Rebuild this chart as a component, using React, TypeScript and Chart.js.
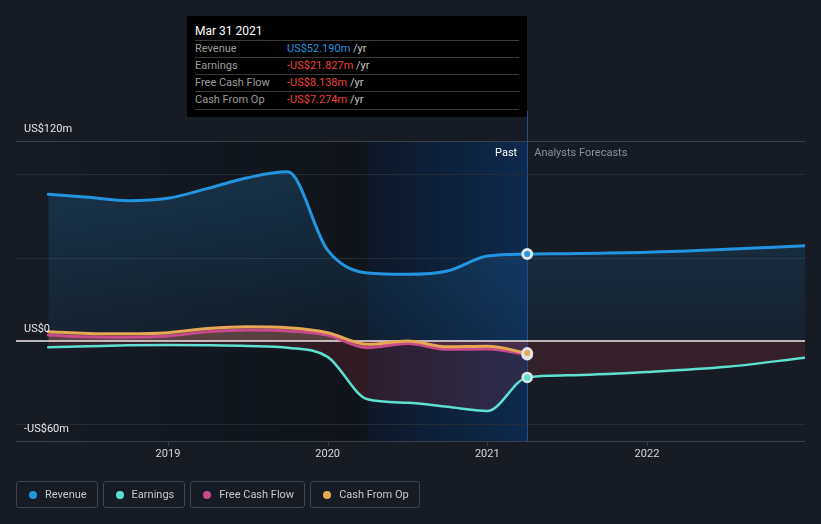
import React, { useEffect, useRef } from 'react';
import { Chart, registerables } from 'chart.js';

Chart.register(...registerables);

// ---- data ----
const pastYears = [2018.25, 2018.5, 2018.75, 2019.0, 2019.25, 2019.5, 2019.75, 2020.0, 2020.25, 2020.5, 2020.75, 2021.0, 2021.25];
const forecastYears = [2021.5, 2022.0, 2022.5, 2022.99];
const revenuePast = [88, 86.2, 84.2, 85.6, 91.6, 98, 101.5, 54.5, 40.8, 40, 42, 51, 52.19];
const revenueForecast = [52.4, 53.2, 55.0, 57.2];
const earningsPast = [-3.8, -3.2, -2.6, -2.4, -2.6, -3.0, -4.0, -9.5, -35, -37, -39.5, -42, -21.827];
const earningsForecast = [-20.6, -18.6, -15.5, -10];
const fcfPast = [3.6, 2.5, 2.2, 3.0, 5.5, 6.6, 6.0, 3.5, -4.0, -1.5, -5.0, -4.8, -8.138];
const cfoPast = [5.6, 4.5, 4.3, 5.0, 7.5, 8.5, 8.0, 5.0, -2.0, 0.0, -3.5, -3.2, -7.274];

const xMin = 2018.048;
const xMax = 2022.99;
const yMin = -60;
const yMax = 120;
const highlightStart = 2020.25;
const xTickValues = [2019, 2020, 2021, 2022];
const xTickLabels = ['2019', '2020', '2021', '2022'];
const yLabelValues = [120, 0, -60];
const yLabelTexts = ['US$120m', 'US$0', '-US$60m'];
const gridValues = [100, 50, -50];
const tooltipTitle = 'Mar 31 2021';
const seriesNames = ['Revenue', 'Earnings', 'Free Cash Flow', 'Cash From Op'];

const BG = '#161b24';
const C_REV = '#2394df';
const C_EARN = '#5de0cf';
const C_FCF = '#c94a8c';
const C_CFO = '#e6a855';
const PT_BORDER = '#dfe3ea';
const FONT = 'Roboto, "Noto Sans", sans-serif';

const pastEnd = pastYears[pastYears.length - 1];
const pts = (xs: number[], ys: number[]) => xs.map((x, i) => ({ x, y: ys[i] }));

const fmt = (v: number) => (v < 0 ? '-US$' : 'US$') + Math.abs(v).toFixed(3) + 'm';
const tooltipValues = [
  revenuePast[revenuePast.length - 1],
  earningsPast[earningsPast.length - 1],
  fcfPast[fcfPast.length - 1],
  cfoPast[cfoPast.length - 1],
];
const seriesColors = [C_REV, C_EARN, C_FCF, C_CFO];

const radiusFn = (ctx: any) => (ctx.raw && ctx.raw.x === pastEnd ? 4.5 : 0);

const decoPlugin = {
  id: 'deco',
  beforeDraw(chart: any) {
    const { ctx, chartArea: a, scales } = chart;
    const x = scales.x;
    const y = scales.y;
    ctx.save();
    const x0 = x.getPixelForValue(pastYears[0]);
    const x1 = x.getPixelForValue(highlightStart);
    const x2 = x.getPixelForValue(pastEnd);
    let g = ctx.createLinearGradient(x0, 0, x1, 0);
    g.addColorStop(0, 'rgba(0,0,0,0)');
    g.addColorStop(1, 'rgba(0,0,0,0.25)');
    ctx.fillStyle = g;
    ctx.fillRect(x0, a.top, x1 - x0, a.bottom - a.top);
    g = ctx.createLinearGradient(x1, 0, x2, 0);
    g.addColorStop(0, '#0f1827');
    g.addColorStop(1, '#0d2a4f');
    ctx.fillStyle = g;
    ctx.fillRect(x1, a.top, x2 - x1, a.bottom - a.top);

    ctx.lineWidth = 1;
    ctx.strokeStyle = '#262c35';
    gridValues.forEach((v) => {
      const py = Math.round(y.getPixelForValue(v)) + 0.5;
      ctx.beginPath();
      ctx.moveTo(a.left, py);
      ctx.lineTo(a.right, py);
      ctx.stroke();
    });
    ctx.strokeStyle = '#3b4049';
    [yMax, yMin].forEach((v) => {
      const py = Math.round(y.getPixelForValue(v)) + 0.5;
      ctx.beginPath();
      ctx.moveTo(a.left, py);
      ctx.lineTo(a.right, py);
      ctx.stroke();
    });
    xTickValues.forEach((v) => {
      const px = Math.round(x.getPixelForValue(v)) + 0.5;
      ctx.beginPath();
      ctx.moveTo(px, a.bottom);
      ctx.lineTo(px, a.bottom + 5);
      ctx.stroke();
    });
    ctx.restore();
  },
  beforeDatasetsDraw(chart: any) {
    const { ctx, chartArea: a, scales } = chart;
    const x = scales.x;
    const y = scales.y;
    ctx.save();
    const x2 = Math.round(x.getPixelForValue(pastEnd)) + 0.5;
    ctx.strokeStyle = '#1d4f91';
    ctx.lineWidth = 1;
    ctx.beginPath();
    ctx.moveTo(x2, a.top - 30);
    ctx.lineTo(x2, a.bottom);
    ctx.stroke();
    const py = y.getPixelForValue(0);
    ctx.strokeStyle = '#f3e6e6';
    ctx.lineWidth = 1.5;
    ctx.beginPath();
    ctx.moveTo(a.left, py);
    ctx.lineTo(a.right, py);
    ctx.stroke();
    ctx.restore();
  },
  afterDraw(chart: any) {
    const { ctx, chartArea: a, scales } = chart;
    const x = scales.x;
    const y = scales.y;
    ctx.save();
    ctx.textBaseline = 'middle';
    ctx.font = '11px ' + FONT;
    ctx.fillStyle = '#e6e6e6';
    ctx.textAlign = 'left';
    yLabelTexts.forEach((t, i) => {
      const py = y.getPixelForValue(yLabelValues[i]);
      ctx.fillText(t, a.left + 8, py - 12);
    });
    ctx.font = '11px ' + FONT;
    ctx.textAlign = 'center';
    ctx.fillStyle = '#d8d8d8';
    xTickLabels.forEach((t, i) => {
      ctx.fillText(t, x.getPixelForValue(xTickValues[i]), a.bottom + 13);
    });
    const x2 = x.getPixelForValue(pastEnd);
    ctx.textAlign = 'right';
    ctx.fillStyle = '#ffffff';
    ctx.fillText('Past', x2 - 10, a.top + 12);
    ctx.textAlign = 'left';
    ctx.fillStyle = '#8a8f98';
    ctx.fillText('Analysts Forecasts', x2 + 7, a.top + 12);
    ctx.restore();
  },
};

export default function App() {
  const ref = useRef<HTMLCanvasElement>(null);
  useEffect(() => {
    document.body.style.margin = '0';
    document.body.style.background = BG;
    const canvas = ref.current!;
    const revFill = (c: any) => {
      const chart = c.chart;
      const a = chart.chartArea;
      if (!a) return 'rgba(35,148,223,0.15)';
      const y = chart.scales.y;
      const g = chart.ctx.createLinearGradient(0, a.top, 0, y.getPixelForValue(0));
      g.addColorStop(0, 'rgba(35,148,223,0.24)');
      g.addColorStop(1, 'rgba(35,148,223,0.06)');
      return g;
    };
    const chart = new Chart(canvas, {
      type: 'line',
      data: {
        datasets: [
          {
            label: seriesNames[0],
            data: pts([...pastYears, ...forecastYears], [...revenuePast, ...revenueForecast]),
            borderColor: C_REV,
            backgroundColor: revFill,
            borderWidth: 3,
            fill: { target: 'origin', below: 'rgba(0,0,0,0)' },
            order: 4,
            pointBackgroundColor: C_REV,
            pointBorderColor: PT_BORDER,
          },
          {
            label: seriesNames[1],
            data: pts([...pastYears, ...forecastYears], [...earningsPast, ...earningsForecast]),
            borderColor: C_EARN,
            backgroundColor: C_EARN,
            borderWidth: 2.5,
            fill: { target: 'origin', above: 'rgba(0,0,0,0)', below: 'rgba(200,62,71,0.17)' },
            order: 3,
            pointBackgroundColor: C_EARN,
            pointBorderColor: PT_BORDER,
          },
          {
            label: seriesNames[2],
            data: pts(pastYears, fcfPast),
            borderColor: C_FCF,
            backgroundColor: C_FCF,
            borderWidth: 3,
            fill: { target: 'origin', above: 'rgba(200,75,140,0.2)', below: 'rgba(200,60,90,0.12)' },
            order: 2,
            pointBackgroundColor: C_FCF,
            pointBorderColor: PT_BORDER,
          },
          {
            label: seriesNames[3],
            data: pts(pastYears, cfoPast),
            borderColor: C_CFO,
            backgroundColor: C_CFO,
            borderWidth: 3,
            fill: { target: 'origin', above: 'rgba(230,170,80,0.2)', below: 'rgba(200,60,60,0.08)' },
            order: 1,
            pointBackgroundColor: C_CFO,
            pointBorderColor: PT_BORDER,
          },
        ],
      },
      options: {
        animation: false,
        responsive: true,
        maintainAspectRatio: false,
        events: [],
        parsing: false as any,
        layout: { padding: { top: 141, bottom: 83, left: 16, right: 16 } },
        elements: {
          line: { cubicInterpolationMode: 'monotone', borderCapStyle: 'round', borderJoinStyle: 'round' },
          point: { radius: radiusFn as any, hoverRadius: radiusFn as any, borderWidth: 1 },
        },
        scales: {
          x: { type: 'linear', min: xMin, max: xMax, display: false },
          y: { type: 'linear', min: yMin, max: yMax, display: false },
        },
        plugins: {
          legend: { display: false },
          tooltip: { enabled: false },
          filler: { drawTime: 'beforeDatasetsDraw' } as any,
        },
      },
      plugins: [decoPlugin],
    });
    return () => chart.destroy();
  }, []);

  return (
    <div style={{ position: 'relative', width: 821, height: 524, background: BG, fontFamily: FONT, overflow: 'hidden' }}>
      <div style={{ position: 'absolute', left: 0, top: 0, width: 821, height: 524 }}>
        <canvas ref={ref} />
      </div>
      <div style={{ position: 'absolute', left: 187, top: 16, width: 340, height: 101, background: '#000' }}>
        <div style={{ position: 'absolute', left: 8, top: 8, fontSize: 12, lineHeight: '14px', color: '#fff', fontWeight: 400 }}>
          {tooltipTitle}
        </div>
        {seriesNames.map((n, i) => (
          <div
            key={n}
            style={{
              position: 'absolute',
              left: 8,
              top: 24 + 17 * i,
              width: 324,
              height: 17,
              borderTop: '1px solid #3a3a3a',
              borderBottom: i === 3 ? '1px solid #3a3a3a' : undefined,
              fontSize: 11,
              lineHeight: '16px',
            }}
          >
            <span style={{ position: 'absolute', left: 0, color: '#9c9c9c' }}>{n}</span>
            <span style={{ position: 'absolute', left: 92, color: '#c8c8c8', whiteSpace: 'nowrap' }}>
              <span style={{ color: tooltipValues[i] < 0 ? '#f0403c' : C_REV }}>{fmt(tooltipValues[i])}</span> /yr
            </span>
          </div>
        ))}
      </div>
      <div style={{ position: 'absolute', left: 16, top: 481, display: 'flex', gap: 5 }}>
        {seriesNames.map((n, i) => (
          <div
            key={n}
            style={{
              display: 'flex',
              alignItems: 'center',
              height: 25,
              padding: '0 10px 0 12px',
              border: '1px solid #3f444d',
              borderRadius: 3,
              fontSize: 11,
              color: '#c8c8c8',
            }}
          >
            <span style={{ width: 8, height: 8, borderRadius: 4, background: seriesColors[i], marginRight: 8, display: 'inline-block' }} />
            {n}
          </div>
        ))}
      </div>
    </div>
  );
}
